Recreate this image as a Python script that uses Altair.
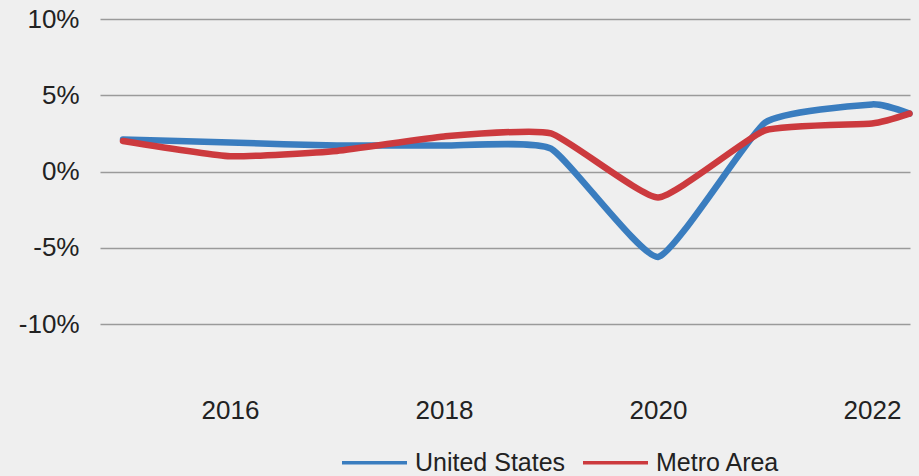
import altair as alt
import pandas as pd

years = [2015, 2016, 2017, 2018, 2019, 2020, 2021, 2022, 2022.35]
us_values = [2.1, 1.9, 1.7, 1.7, 1.5, -5.6, 3.2, 4.4, 3.8]
metro_values = [2.0, 1.0, 1.35, 2.3, 2.5, -1.7, 2.7, 3.15, 3.8]
series_names = ["United States", "Metro Area"]
series_colors = ["#3a7dbf", "#cc3a3e"]
x_ticks = [2016, 2018, 2020, 2022]
y_ticks = [-10, -5, 0, 5, 10]

rows = []
for name, vals in zip(series_names, [us_values, metro_values]):
    for i, (yr, v) in enumerate(zip(years, vals)):
        rows.append({"year": yr, "value": v, "series": name, "order": i})
df = pd.DataFrame(rows)

FONT = "Liberation Sans"
TEXT = "#222222"

chart = (
    alt.Chart(df)
    .mark_line(strokeWidth=6.5, interpolate="cardinal", tension=0.55, strokeCap="round")
    .encode(
        x=alt.X(
            "year:Q",
            scale=alt.Scale(domain=[2014.785, 2022.355], nice=False, zero=False),
            axis=alt.Axis(
                values=x_ticks,
                format="d",
                title=None,
                grid=False,
                ticks=False,
                domain=False,
                labelFontSize=26,
                labelFont=FONT,
                labelColor=TEXT,
                labelBaseline="middle",
                labelPadding=86,
            ),
        ),
        y=alt.Y(
            "value:Q",
            scale=alt.Scale(domain=[-10, 10], nice=False),
            axis=alt.Axis(
                values=y_ticks,
                labelExpr="datum.value + '%'",
                title=None,
                grid=True,
                gridColor="#9a9a9a",
                gridWidth=1.5,
                ticks=False,
                domain=False,
                labelFontSize=26,
                labelFont=FONT,
                labelColor=TEXT,
                labelPadding=21,
            ),
        ),
        color=alt.Color(
            "series:N",
            scale=alt.Scale(domain=series_names, range=series_colors),
            legend=alt.Legend(
                title=None,
                orient="none",
                legendX=240,
                legendY=409,
                direction="horizontal",
                symbolType="stroke",
                symbolSize=4225,
                symbolStrokeWidth=3.5,
                labelFontSize=25,
                labelFont=FONT,
                labelColor=TEXT,
                labelOffset=6,
                columnPadding=10,
                labelLimit=400,
            ),
        ),
        order="order:Q",
        detail="series:N",
    )
    .properties(
        width=810,
        height=305,
        autosize=alt.AutoSizeParams(type="none"),
        padding={"left": 100, "top": 19, "right": 9, "bottom": 152},
        background="#efefef",
    )
    .configure_view(strokeWidth=0)
)

chart.save("out.html", embed_options={"renderer": "svg", "actions": False})
